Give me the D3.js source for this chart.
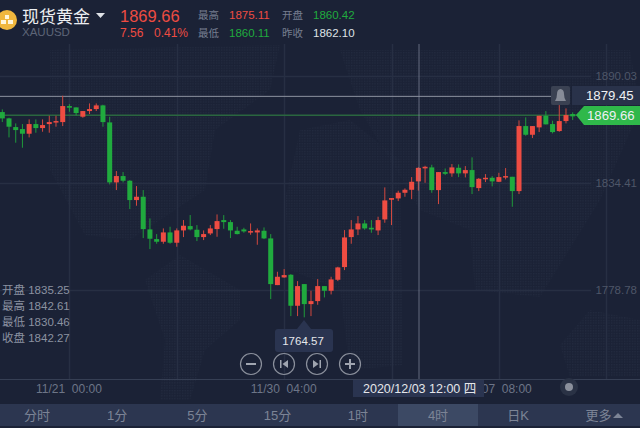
<!DOCTYPE html>
<html>
<head>
<meta charset="utf-8">
<script src="https://cdnjs.cloudflare.com/ajax/libs/d3/7.8.5/d3.min.js"></script>
<style>
html, body { margin: 0; padding: 0; background: #1b2236; overflow: hidden; }
text { font-family: "Liberation Sans", "Noto Sans CJK SC", sans-serif; }
</style>
</head>
<body>
<script>
var opens = [1871.28, 1867.99, 1863.48, 1862.44, 1860.02, 1865.04, 1862.96, 1865.04, 1865.91, 1866.08,
	1874.40, 1873.71, 1868.86, 1871.80, 1872.84, 1874.75, 1865.91, 1834.72, 1838.01, 1835.58,
	1825.53, 1827.26, 1810.28, 1805.25, 1803.87, 1808.72, 1803.35, 1809.76, 1812.01, 1810.11,
	1806.29, 1808.19, 1810.45, 1815.12, 1814.08, 1809.58, 1810.27, 1808.89, 1808.71, 1809.58,
	1805.60, 1781.33, 1785.32, 1786.70, 1770.59, 1781.85, 1771.45, 1773.01, 1780.81, 1778.39,
	1784.10, 1790.69, 1806.29, 1810.27, 1813.39, 1811.14, 1809.75, 1815.47, 1825.70, 1826.39,
	1829.32, 1830.88, 1835.25, 1842.00, 1842.52, 1830.72, 1840.08, 1839.40, 1842.32, 1839.40,
	1841.12, 1831.76, 1836.44, 1837.12, 1835.04, 1837.32, 1837.64, 1830.20, 1864.00, 1859.48,
	1863.32, 1869.36, 1865.04, 1861.40, 1866.60, 1870.24];
var closes = [1867.99, 1863.66, 1861.92, 1860.02, 1865.04, 1862.96, 1864.52, 1866.08, 1866.60, 1874.40,
	1873.54, 1870.76, 1871.80, 1872.84, 1874.75, 1866.08, 1834.72, 1838.01, 1835.58, 1825.53,
	1827.26, 1810.45, 1805.43, 1803.87, 1808.72, 1803.35, 1809.76, 1812.19, 1810.28, 1806.29,
	1807.85, 1810.79, 1814.60, 1814.08, 1809.75, 1807.85, 1809.23, 1809.40, 1809.75, 1805.60,
	1781.85, 1785.66, 1786.53, 1770.59, 1780.81, 1771.45, 1773.01, 1780.81, 1778.39, 1784.28,
	1790.52, 1806.11, 1810.27, 1813.39, 1810.79, 1810.27, 1815.12, 1825.35, 1826.56, 1829.34,
	1830.88, 1835.04, 1842.27, 1842.84, 1830.72, 1840.08, 1839.20, 1842.52, 1839.40, 1841.12,
	1832.28, 1836.60, 1837.12, 1835.24, 1837.48, 1838.00, 1830.20, 1864.00, 1859.48, 1864.00,
	1869.36, 1864.88, 1860.88, 1866.60, 1869.72, 1869.04];
var highs = [1872.67, 1868.34, 1865.39, 1865.04, 1867.47, 1867.47, 1867.47, 1869.38, 1869.38, 1879.77,
	1875.44, 1873.71, 1871.80, 1875.79, 1875.79, 1875.10, 1868.86, 1840.61, 1840.09, 1835.93,
	1832.81, 1830.73, 1816.00, 1807.85, 1810.80, 1811.67, 1810.80, 1815.13, 1817.73, 1812.53,
	1809.76, 1812.53, 1818.07, 1817.72, 1815.12, 1811.66, 1811.14, 1813.39, 1810.79, 1811.31,
	1807.85, 1788.26, 1789.65, 1787.05, 1783.41, 1781.85, 1778.39, 1784.45, 1780.81, 1785.66,
	1790.86, 1809.93, 1815.12, 1817.20, 1815.12, 1815.12, 1816.86, 1832.11, 1826.56, 1830.38,
	1831.60, 1837.48, 1842.61, 1843.36, 1843.88, 1840.08, 1841.96, 1844.24, 1844.08, 1843.20,
	1847.72, 1836.96, 1839.04, 1838.00, 1839.72, 1842.16, 1837.64, 1866.96, 1868.52, 1864.00,
	1869.36, 1871.80, 1866.76, 1874.92, 1873.20, 1871.12];
var lows = [1866.08, 1858.11, 1855.34, 1852.74, 1858.11, 1860.54, 1861.06, 1860.54, 1863.66, 1864.00,
	1871.46, 1869.55, 1868.34, 1870.24, 1871.80, 1863.66, 1833.68, 1830.73, 1834.72, 1820.85,
	1822.59, 1805.77, 1800.06, 1802.83, 1802.83, 1802.83, 1801.27, 1806.29, 1809.76, 1804.21,
	1804.73, 1807.33, 1806.46, 1810.62, 1805.77, 1807.67, 1808.54, 1807.50, 1802.30, 1805.25,
	1774.05, 1781.33, 1785.14, 1765.21, 1765.21, 1764.57, 1765.21, 1771.10, 1774.92, 1776.48,
	1783.41, 1789.13, 1802.82, 1807.33, 1810.10, 1808.54, 1807.33, 1813.74, 1812.53, 1825.00,
	1827.26, 1826.00, 1830.46, 1834.52, 1829.32, 1823.44, 1838.52, 1837.64, 1837.48, 1837.32,
	1828.64, 1830.20, 1834.88, 1832.64, 1834.88, 1836.28, 1822.04, 1828.64, 1858.96, 1857.76,
	1860.88, 1864.88, 1860.20, 1861.04, 1865.40, 1867.16];

var priceTicks = [1890.03, 1834.41, 1778.78];
var timeTickIndex = [10, 42, 74];
var timeTickLabels = ["11/21  00:00", "11/30  04:00", "12/07  08:00"];
var gridIndex = [10, 26, 42, 58, 74, 90];
var tabs = ["分时", "1分", "5分", "15分", "1时", "4时", "日K", "更多"];
var ohlcLabels = ["开盘 1835.25", "最高 1842.61", "最低 1830.46", "收盘 1842.27"];

var w = 640;
var h = 428;
var red = "#ee4c42";
var green = "#20ab3e";

var svg = d3.select("body").append("svg")
	.attr("width", w)
	.attr("height", h)
	.style("display", "block");

var x = d3.scaleLinear().domain([0, 85]).range([2.3, 572.7]);
var y = d3.scaleLinear().domain([1890.03, 1778.78]).range([76, 290]);

svg.append("rect").attr("width", w).attr("height", h).attr("fill", "#1b2236");

// dotted world map, only roughly
var defs = svg.append("defs");
defs.append("pattern")
	.attr("id", "dots")
	.attr("width", 2.6)
	.attr("height", 2.6)
	.attr("patternUnits", "userSpaceOnUse")
	.append("rect")
	.attr("width", 1.3)
	.attr("height", 1.3)
	.attr("fill", "#232b40");

var land = ["M50 50L280 45L270 90L215 130L205 190L130 240L85 235L50 170Z",
	"M145 280L180 255L240 290L240 320L205 350L190 400L160 400L165 340Z",
	"M285 200L300 130L350 120L400 160L403 365L350 370L340 290L290 270Z",
	"M340 50L630 50L640 110L600 200L540 297L475 290L470 230L420 210L360 110Z",
	"M560 345L590 310L640 320L640 377L570 377Z"];
svg.selectAll("path.land")
	.data(land)
	.enter()
	.append("path")
	.attr("class", "land")
	.attr("d", function(d) { return d; })
	.attr("fill", "url(#dots)");

// grid
svg.selectAll("line.vgrid")
	.data(gridIndex)
	.enter()
	.append("line")
	.attr("class", "vgrid")
	.attr("x1", function(d) { return Math.round(x(d)) + 0.5; })
	.attr("x2", function(d) { return Math.round(x(d)) + 0.5; })
	.attr("y1", 44)
	.attr("y2", 379)
	.attr("stroke-width", 1.5)
	.attr("stroke", "#272f43");

var yAxis = d3.axisRight(y).tickValues(priceTicks).tickSize(591).tickFormat(d3.format(".2f"));
var gy = svg.append("g").call(yAxis);
gy.select(".domain").remove();
gy.selectAll(".tick line").attr("stroke", "#272f43").attr("stroke-width", 1.5);
gy.selectAll(".tick text")
	.attr("x", 637)
	.attr("text-anchor", "end")
	.attr("font-size", 11.5)
	.attr("font-family", "Liberation Sans")
	.attr("fill", "#4e5668");

// alert and last price lines
svg.append("line")
	.attr("x1", 0).attr("x2", 552).attr("y1", y(1879.45)).attr("y2", y(1879.45))
	.attr("stroke", "#8d93a0");
svg.append("line")
	.attr("x1", 0).attr("x2", 578).attr("y1", y(1869.66)).attr("y2", y(1869.66))
	.attr("stroke-width", 1.5)
	.attr("stroke", "#2a663f");

// candles
var candles = d3.range(opens.length);

svg.selectAll("line.wick")
	.data(candles)
	.enter()
	.append("line")
	.attr("class", "wick")
	.attr("x1", function(d) { return x(d); })
	.attr("x2", function(d) { return x(d); })
	.attr("y1", function(d) { return y(highs[d]); })
	.attr("y2", function(d) { return y(lows[d]); })
	.attr("stroke-width", 1)
	.attr("stroke", function(d) { return closes[d] >= opens[d] ? "#d2483f" : "#1f9a3b"; });

svg.selectAll("rect.body")
	.data(candles)
	.enter()
	.append("rect")
	.attr("class", "body")
	.attr("x", function(d) { return x(d) - 2.5; })
	.attr("y", function(d) { return y(Math.max(opens[d], closes[d])); })
	.attr("width", 5)
	.attr("height", function(d) { return Math.max(1.5, Math.abs(y(opens[d]) - y(closes[d]))); })
	.attr("fill", function(d) { return closes[d] >= opens[d] ? red : green; });

// crosshair sits over the candles
svg.append("line")
	.attr("x1", 419).attr("x2", 419).attr("y1", 44).attr("y2", 379)
	.attr("stroke-width", 1.5)
	.attr("stroke", "#8a91a3")
	.attr("stroke-opacity", 0.45);

// time axis
svg.append("line")
	.attr("x1", 0).attr("x2", w).attr("y1", 379.5).attr("y2", 379.5)
	.attr("stroke", "#363f54");

var xAxis = d3.axisBottom(x)
	.tickValues(timeTickIndex)
	.tickSize(0)
	.tickFormat(function(d, i) { return timeTickLabels[i]; });
var gx = svg.append("g").attr("transform", "translate(-1,380)").call(xAxis);
gx.select(".domain").remove();
gx.selectAll(".tick text")
	.attr("dy", "0.8em")
	.attr("font-size", 12)
	.attr("font-family", "Liberation Sans")
	.style("white-space", "pre")
	.attr("fill", "#6d7587");

// crosshair date label
svg.append("rect")
	.attr("x", 353).attr("y", 380).attr("width", 131).attr("height", 17)
	.attr("fill", "#2a3450");
svg.append("text")
	.attr("x", 363).attr("y", 392.5)
	.attr("font-size", 12.5)
	.attr("fill", "#e4e6ea")
	.text("2020/12/03 12:00 四");

// slider knob
svg.append("circle").attr("cx", 569).attr("cy", 387).attr("r", 9).attr("fill", "#2a3245");
svg.append("circle").attr("cx", 569).attr("cy", 387).attr("r", 4).attr("fill", "#8b909c");

// tabs
svg.append("rect").attr("x", 0).attr("y", 404).attr("width", w).attr("height", 22).attr("fill", "#2c3650");
svg.append("rect").attr("x", 398).attr("y", 404).attr("width", 80).attr("height", 22).attr("fill", "#3c4964");
svg.selectAll("text.tab")
	.data(tabs)
	.enter()
	.append("text")
	.attr("class", "tab")
	.attr("x", function(d, i) { return 37 + i * 80.2; })
	.attr("y", 420)
	.attr("text-anchor", "middle")
	.attr("font-size", 13)
	.attr("fill", "#7c8496")
	.text(function(d) { return d; });
svg.append("path").attr("d", "M613 418L618 413L623 418Z").attr("fill", "#7c8496");

// ohlc of the selected bar
svg.selectAll("text.ohlc")
	.data(ohlcLabels)
	.enter()
	.append("text")
	.attr("class", "ohlc")
	.attr("x", 2)
	.attr("y", function(d, i) { return 294 + i * 16; })
	.attr("font-size", 11.5)
	.attr("fill", "#8b92a1")
	.text(function(d) { return d; });

// lowest price tooltip
svg.append("path")
	.attr("d", "M278 329H297L304 320L311 329H330Q333 329 333 332V349Q333 352 330 352H278Q275 352 275 349V332Q275 329 278 329Z")
	.attr("fill", "#2a3450");
svg.append("text")
	.attr("x", 303).attr("y", 345)
	.attr("text-anchor", "middle")
	.attr("font-size", 11.5)
	.attr("fill", "#e4e6ea")
	.text("1764.57");

// zoom and step buttons
var buttons = [251, 284, 317, 350];
svg.selectAll("circle.btn")
	.data(buttons)
	.enter()
	.append("circle")
	.attr("class", "btn")
	.attr("cx", function(d) { return d; })
	.attr("cy", 364)
	.attr("r", 10.5)
	.attr("fill", "none")
	.attr("stroke", "#8b909c")
	.attr("stroke-width", 1.2);
svg.append("path").attr("d", "M246 364H256").attr("stroke", "#a0a5b0").attr("stroke-width", 2);
svg.append("path").attr("d", "M345 364H355M350 359V369").attr("stroke", "#a0a5b0").attr("stroke-width", 2);
svg.append("path").attr("d", "M280 360H281.5V368H280ZM288 360V368L282.5 364Z").attr("fill", "#a0a5b0");
svg.append("path").attr("d", "M321 360H319.5V368H321ZM313 360V368L318.5 364Z").attr("fill", "#a0a5b0");

// price tags
svg.append("rect").attr("x", 551).attr("y", 86).attr("width", 19).attr("height", 19).attr("rx", 2).attr("fill", "#3a4152");
svg.append("path")
	.attr("d", "M555 101Q557 98 557 94Q557 89.5 560.5 89Q564 89.5 564 94Q564 98 566 101Z")
	.attr("fill", "#868b97");
svg.append("rect").attr("x", 572).attr("y", 86).attr("width", 68).attr("height", 19).attr("fill", "#29324a");
svg.append("text")
	.attr("x", 586).attr("y", 100)
	.attr("font-size", 13.2)
	.attr("fill", "#eef0f3")
	.text("1879.45");
svg.append("path")
	.attr("d", "M576 115L584 106H640V125H584Z")
	.attr("fill", "#2fb84a");
svg.append("text")
	.attr("x", 587).attr("y", 120)
	.attr("font-size", 13.2)
	.attr("fill", "#eef0f3")
	.text("1869.66");

// header
svg.append("circle").attr("cx", 7).attr("cy", 20).attr("r", 10).attr("fill", "#f0b73e");
svg.append("path").attr("d", "M5 15H9V19H5ZM1 20H6V24H1ZM8 20H13V24H8Z").attr("fill", "#fff6dc");
svg.append("text")
	.attr("x", 22).attr("y", 22.5)
	.attr("font-size", 17)
	.attr("fill", "#eceef1")
	.text("现货黄金");
svg.append("path").attr("d", "M96 13H105L100.5 18Z").attr("fill", "#dfe2e7");
svg.append("text").attr("x", 22).attr("y", 35.5).attr("font-size", 11.5).attr("fill", "#5d6578").text("XAUUSD");

svg.append("text").attr("x", 120).attr("y", 22).attr("font-size", 16.5).attr("fill", red).text("1869.66");
svg.append("text").attr("x", 120).attr("y", 37).attr("font-size", 12).attr("fill", red).text("7.56");
svg.append("text").attr("x", 154).attr("y", 37).attr("font-size", 12).attr("fill", red).text("0.41%");

var headCells = [
	[198, 19, "最高", "#767e90", 10.5], [229, 19, "1875.11", red, 11.5],
	[198, 37, "最低", "#767e90", 10.5], [229, 37, "1860.11", green, 11.5],
	[282, 19, "开盘", "#767e90", 10.5], [313, 19, "1860.42", green, 11.5],
	[282, 37, "昨收", "#767e90", 10.5], [313, 37, "1862.10", "#dfe2e7", 11.5]
];
svg.selectAll("text.head")
	.data(headCells)
	.enter()
	.append("text")
	.attr("class", "head")
	.attr("x", function(d) { return d[0]; })
	.attr("y", function(d) { return d[1]; })
	.attr("font-size", function(d) { return d[4]; })
	.attr("fill", function(d) { return d[3]; })
	.text(function(d) { return d[2]; });
</script>
</body>
</html>
